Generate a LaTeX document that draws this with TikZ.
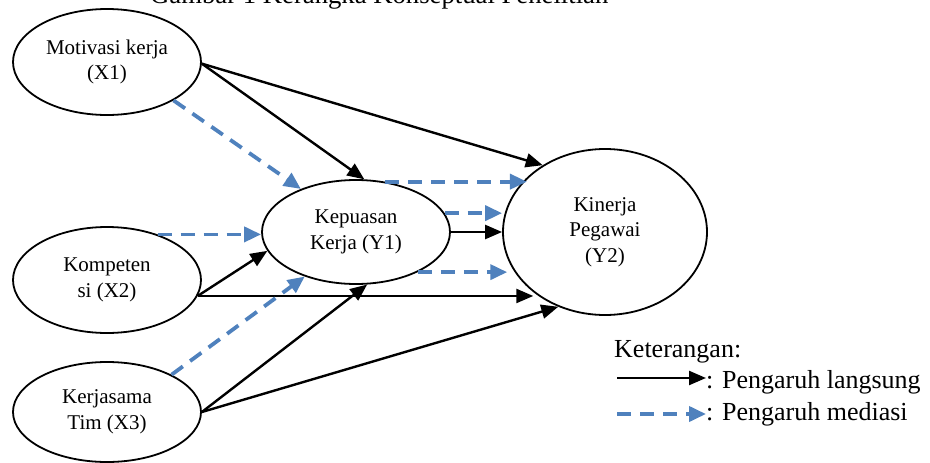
\documentclass[tikz,border=0pt]{standalone}
\usepackage{fontspec}
\setmainfont{Liberation Serif}
\usetikzlibrary{arrows.meta,shapes.geometric}
\definecolor{medblue}{RGB}{79,129,189}
\begin{document}
\begin{tikzpicture}[x=1pt,y=-1pt,
  ell/.style={draw, line width=1.8pt, ellipse, inner sep=0pt, align=center,
    font=\fontsize{21}{25.5}\selectfont},
  direct/.style={line width=2.4pt, -{Triangle[length=17pt,width=14pt]}},
  mediate/.style={draw=medblue, line width=3.8pt, dash pattern=on 14pt off 9pt,
    -{Triangle[length=17pt,width=15pt]}},
  legtext/.style={anchor=base west, inner sep=0pt, font=\fontsize{26}{30}\selectfont}]
\useasboundingbox (0,0) rectangle (930,463);
\clip (0,0) rectangle (930,463);
\node[anchor=base west, inner sep=0pt, font=\fontsize{26.7}{30}\selectfont] (title) at (150,4) {Gambar 1 Kerangka Konseptual Penelitian};

\node[ell, minimum width=188pt, minimum height=106pt] (x1) at (107,62) {Motivasi kerja\\(X1)};
\node[ell, minimum width=188pt, minimum height=106pt] (x2) at (107,280) {Kompeten\\si (X2)};
\node[ell, minimum width=188pt, minimum height=100pt] (x3) at (107,412) {Kerjasama\\Tim (X3)};
\node[ell, minimum width=188pt, minimum height=104pt] (y1) at (356,232) {Kepuasan\\Kerja (Y1)};
\node[ell, minimum width=204pt, minimum height=166pt] (y2) at (605,232) {Kinerja\\Pegawai\\(Y2)};

\draw[direct] (x1.-1) -- (y2.133);
\draw[direct] (x1.-1) -- (y1.81);
\draw[mediate] (x1.-30) -- (y1.142);
\draw[mediate] (x2.42) -- (x2.42 -| y1.west);
\draw[direct] (x2.-10) -- (y1.192);
\draw[direct] (x2.-10) -- (x2.-10 -| y2.220);
\draw[direct] (x3.east) -- (y1.-78);
\draw[direct] (x3.east) -- (y2.238);
\draw[mediate] (x3.30) -- (y1.221);
\draw[direct] (y1.east) -- (y2.west);
\draw[mediate] (y1.60) -- (y1.60 -| y2.145);
\draw[mediate] (y1.12) -- (y1.12 -| y2.west);
\draw[mediate] (y1.-33) -- (y1.-33 -| y2.195);

\node[legtext] (ket) at (614,357) {Keterangan:};
\node[legtext] (l1) at (706,388) {: Pengaruh langsung};
\node[legtext] (l2) at (706,420) {: Pengaruh mediasi};
\coordinate (l1s) at (617,378);
\coordinate (l2s) at (617,414);
\draw[direct] (l1s) -- (l1s -| l1.west);
\draw[mediate] (l2s) -- (l2s -| l2.west);
\end{tikzpicture}
\end{document}
